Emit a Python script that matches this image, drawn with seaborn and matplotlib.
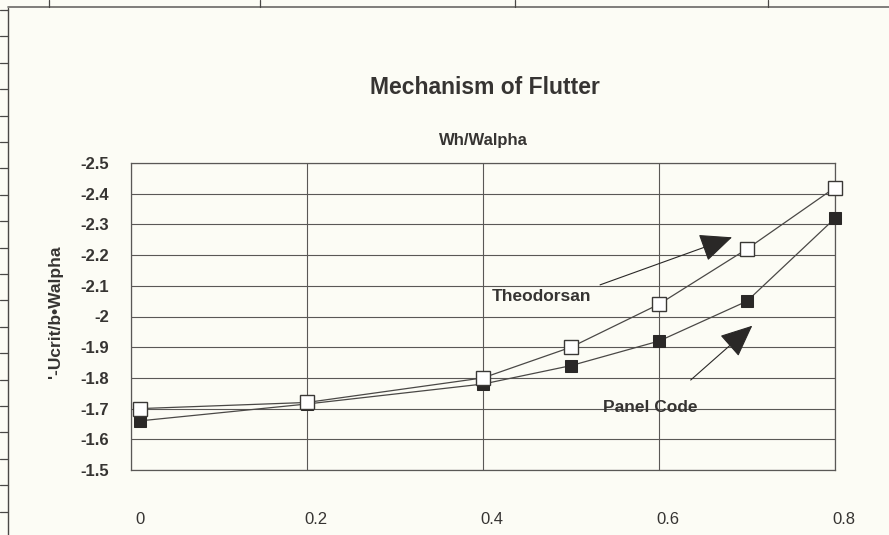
import matplotlib
matplotlib.use("Agg")
import matplotlib.pyplot as plt
import matplotlib.transforms as mtransforms
from matplotlib.lines import Line2D
import seaborn as sns
import pandas as pd

# Frequency ratio values and the two flutter-speed estimates
freq_ratio = [0.01, 0.2, 0.4, 0.5, 0.6, 0.7, 0.8]
theodorsen = [-1.70, -1.72, -1.80, -1.90, -2.04, -2.22, -2.42]
panel_code = [-1.66, -1.715, -1.78, -1.84, -1.92, -2.05, -2.32]

y_ticks = [-2.5, -2.4, -2.3, -2.2, -2.1, -2.0, -1.9, -1.8, -1.7, -1.6, -1.5]
y_tick_labels = ["-2.5", "-2.4", "-2.3", "-2.2", "-2.1", "-2", "-1.9",
                 "-1.8", "-1.7", "-1.6", "-1.5"]
x_ticks = [0, 0.2, 0.4, 0.6, 0.8]
x_tick_labels = ["0", "0.2", "0.4", "0.6", "0.8"]

df = pd.DataFrame({"ratio": freq_ratio,
                   "Theodorsan": theodorsen,
                   "Panel Code": panel_code})

paper = "#fcfcf5"
ink = "#363432"
grid_ink = "#5a5856"

sns.set_theme(style="white")
plt.rcParams["font.family"] = ["Liberation Sans", "DejaVu Sans"]

fig = plt.figure(figsize=(8.89, 5.35), dpi=100, facecolor=paper)
ax = fig.add_axes([131 / 889, 65 / 535, 704 / 889, 307 / 535])
ax.set_facecolor(paper)

# Panel code results (filled squares) drawn first, Theodorsen on top
sns.lineplot(data=df, x="ratio", y="Panel Code", ax=ax, sort=False,
             color="#4a4846", linewidth=0.9, marker="s", markersize=8,
             markerfacecolor="#2a2827", markeredgecolor="#2a2827",
             clip_on=False, zorder=3)
sns.lineplot(data=df, x="ratio", y="Theodorsan", ax=ax, sort=False,
             color="#4a4846", linewidth=0.9, marker="s", markersize=10,
             markerfacecolor="white", markeredgecolor="#3a3836",
             markeredgewidth=1.0, clip_on=False, zorder=4)

ax.set_xlim(0, 0.8)
ax.set_ylim(-1.5, -2.5)
ax.set_xticks(x_ticks)
ax.set_xticklabels(x_tick_labels)
ax.set_yticks(y_ticks)
ax.set_yticklabels(y_tick_labels, fontweight="bold")

ax.grid(True, color=grid_ink, linewidth=0.8)
ax.set_axisbelow(True)
for s in ax.spines.values():
    s.set_color(grid_ink)
    s.set_linewidth(0.9)

ax.tick_params(axis="y", direction="out", length=4, width=0.8, color=grid_ink,
               pad=12, labelsize=12, labelcolor=ink)
ax.tick_params(axis="x", direction="out", length=4, width=0.8, color=grid_ink,
               pad=26, labelsize=12, labelcolor=ink)
# x labels sit a little to the right of their gridlines
shift = mtransforms.ScaledTranslation(9 / 100, 0, fig.dpi_scale_trans)
for lbl in ax.get_xticklabels():
    lbl.set_transform(lbl.get_transform() + shift)

ax.set_xlabel("")
ax.set_ylabel("'-Ucrit/b\u2022Walpha", fontsize=12.5, fontweight="bold",
              color=ink)
ax.yaxis.set_label_coords(-68 / 704, 0.515)

fig.text(485 / 889, 1 - 88 / 535, "Mechanism of Flutter", ha="center",
         va="center", fontsize=16.5, fontweight="bold", color=ink)
fig.text(483 / 889, 1 - 140 / 535, "Wh/Walpha", ha="center", va="center",
         fontsize=12, fontweight="bold", color=ink)

# Callouts pointing to each curve
head = "-|>,head_length=1.7,head_width=0.75"
ax.annotate("", xy=(0.683, -2.258), xytext=(0.533, -2.103),
            arrowprops=dict(arrowstyle=head, color="#2a2827", lw=0.8,
                            shrinkA=0, shrinkB=0),
            zorder=5)
ax.text(0.466, -2.064, "Theodorsan", ha="center", va="center",
        fontsize=12.5, fontweight="bold", color=ink, zorder=6)
ax.annotate("", xy=(0.706, -1.97), xytext=(0.636, -1.793),
            arrowprops=dict(arrowstyle=head, color="#2a2827", lw=0.8,
                            shrinkA=0, shrinkB=0),
            zorder=5)
ax.text(0.590, -1.705, "Panel Code", ha="center", va="center",
        fontsize=12.5, fontweight="bold", color=ink, zorder=6)

# Surrounding page frame with its tick marks
H = 535.0
W = 889.0
frame = "#4a4846"
fig.add_artist(Line2D([8 / W, 8 / W], [0, 1 - 8 / H], transform=fig.transFigure,
                      color=frame, lw=1.0))
fig.add_artist(Line2D([8 / W, 1], [1 - 7 / H, 1 - 7 / H], transform=fig.transFigure,
                      color="#6a6866", lw=1.2))
for i in range(20):
    yy = 1 - (10 + 26.4 * i) / H
    fig.add_artist(Line2D([0, 8 / W], [yy, yy], transform=fig.transFigure,
                          color=frame, lw=0.9))
for xx in [49, 260, 515, 768]:
    fig.add_artist(Line2D([xx / W, xx / W], [1, 1 - 7 / H],
                          transform=fig.transFigure, color=frame, lw=0.9))

fig.savefig("out.png", dpi=100, facecolor=paper)
